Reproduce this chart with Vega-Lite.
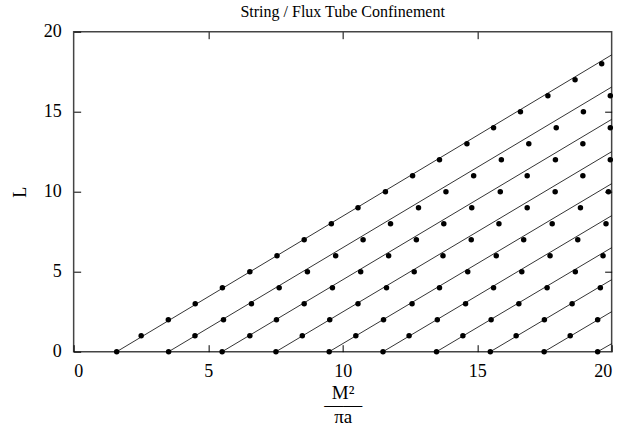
{
  "$schema": "https://vega.github.io/schema/vega-lite/v6.json",
  "width": 538,
  "height": 320,
  "autosize": {"type": "none"},
  "padding": {"left": 73.65, "top": 31.7, "right": 27.35, "bottom": 82.3},
  "background": "white",
  "config": {
    "font": "Liberation Serif",
    "view": {"stroke": "#444", "strokeWidth": 1.5},
    "axis": {"grid": false, "labelColor": "black", "titleColor": "black", "labelFont": "Liberation Serif", "titleFont": "Liberation Serif"}
  },
  "title": {"text": "String / Flux Tube Confinement", "fontSize": 16, "fontWeight": "normal", "anchor": "middle", "offset": 3, "color": "black", "font": "Liberation Serif"},
  "datasets": {
    "lines": [
      {"n": 0, "x": 1.60, "L": 0}, {"n": 0, "x": 20, "L": 18.55},
      {"n": 1, "x": 3.53, "L": 0}, {"n": 1, "x": 20, "L": 16.54},
      {"n": 2, "x": 5.52, "L": 0}, {"n": 2, "x": 20, "L": 14.52},
      {"n": 3, "x": 7.52, "L": 0}, {"n": 3, "x": 20, "L": 12.5},
      {"n": 4, "x": 9.50, "L": 0}, {"n": 4, "x": 20, "L": 10.5},
      {"n": 5, "x": 11.50, "L": 0}, {"n": 5, "x": 20, "L": 8.5},
      {"n": 6, "x": 13.49, "L": 0}, {"n": 6, "x": 20, "L": 6.5},
      {"n": 7, "x": 15.49, "L": 0}, {"n": 7, "x": 20, "L": 4.5},
      {"n": 8, "x": 17.49, "L": 0}, {"n": 8, "x": 20, "L": 2.5},
      {"n": 9, "x": 19.48, "L": 0}, {"n": 9, "x": 20, "L": 0.5}
    ],
    "points": [
      {"n": 0, "L": 0, "x": 1.60}, {"n": 0, "L": 1, "x": 2.51}, {"n": 0, "L": 2, "x": 3.52}, {"n": 0, "L": 3, "x": 4.52}, {"n": 0, "L": 4, "x": 5.53}, {"n": 0, "L": 5, "x": 6.55}, {"n": 0, "L": 6, "x": 7.56}, {"n": 0, "L": 7, "x": 8.57}, {"n": 0, "L": 8, "x": 9.58}, {"n": 0, "L": 9, "x": 10.57}, {"n": 0, "L": 10, "x": 11.59}, {"n": 0, "L": 11, "x": 12.60}, {"n": 0, "L": 12, "x": 13.60}, {"n": 0, "L": 13, "x": 14.62}, {"n": 0, "L": 14, "x": 15.61}, {"n": 0, "L": 15, "x": 16.61}, {"n": 0, "L": 16, "x": 17.63}, {"n": 0, "L": 17, "x": 18.64}, {"n": 0, "L": 18, "x": 19.63},
      {"n": 1, "L": 0, "x": 3.53}, {"n": 1, "L": 1, "x": 4.51}, {"n": 1, "L": 2, "x": 5.57}, {"n": 1, "L": 3, "x": 6.61}, {"n": 1, "L": 4, "x": 7.64}, {"n": 1, "L": 5, "x": 8.69}, {"n": 1, "L": 6, "x": 9.74}, {"n": 1, "L": 7, "x": 10.76}, {"n": 1, "L": 8, "x": 11.78}, {"n": 1, "L": 9, "x": 12.82}, {"n": 1, "L": 10, "x": 13.84}, {"n": 1, "L": 11, "x": 14.87}, {"n": 1, "L": 12, "x": 15.90}, {"n": 1, "L": 13, "x": 16.92}, {"n": 1, "L": 14, "x": 17.94}, {"n": 1, "L": 15, "x": 18.95}, {"n": 1, "L": 16, "x": 19.95},
      {"n": 2, "L": 0, "x": 5.52}, {"n": 2, "L": 1, "x": 6.55}, {"n": 2, "L": 2, "x": 7.54}, {"n": 2, "L": 3, "x": 8.57}, {"n": 2, "L": 4, "x": 9.62}, {"n": 2, "L": 5, "x": 10.67}, {"n": 2, "L": 6, "x": 11.71}, {"n": 2, "L": 7, "x": 12.74}, {"n": 2, "L": 8, "x": 13.76}, {"n": 2, "L": 9, "x": 14.80}, {"n": 2, "L": 10, "x": 15.86}, {"n": 2, "L": 11, "x": 16.86}, {"n": 2, "L": 12, "x": 17.91}, {"n": 2, "L": 13, "x": 18.93}, {"n": 2, "L": 14, "x": 19.95},
      {"n": 3, "L": 0, "x": 7.52}, {"n": 3, "L": 1, "x": 8.50}, {"n": 3, "L": 2, "x": 9.52}, {"n": 3, "L": 3, "x": 10.57}, {"n": 3, "L": 4, "x": 11.63}, {"n": 3, "L": 5, "x": 12.66}, {"n": 3, "L": 6, "x": 13.73}, {"n": 3, "L": 7, "x": 14.78}, {"n": 3, "L": 8, "x": 15.81}, {"n": 3, "L": 9, "x": 16.86}, {"n": 3, "L": 10, "x": 17.90}, {"n": 3, "L": 11, "x": 18.93}, {"n": 3, "L": 12, "x": 19.95},
      {"n": 4, "L": 0, "x": 9.50}, {"n": 4, "L": 1, "x": 10.49}, {"n": 4, "L": 2, "x": 11.52}, {"n": 4, "L": 3, "x": 12.58}, {"n": 4, "L": 4, "x": 13.60}, {"n": 4, "L": 5, "x": 14.65}, {"n": 4, "L": 6, "x": 15.71}, {"n": 4, "L": 7, "x": 16.73}, {"n": 4, "L": 8, "x": 17.79}, {"n": 4, "L": 9, "x": 18.84}, {"n": 4, "L": 10, "x": 19.88},
      {"n": 5, "L": 0, "x": 11.50}, {"n": 5, "L": 1, "x": 12.47}, {"n": 5, "L": 2, "x": 13.52}, {"n": 5, "L": 3, "x": 14.57}, {"n": 5, "L": 4, "x": 15.61}, {"n": 5, "L": 5, "x": 16.66}, {"n": 5, "L": 6, "x": 17.71}, {"n": 5, "L": 7, "x": 18.74}, {"n": 5, "L": 8, "x": 19.79},
      {"n": 6, "L": 0, "x": 13.49}, {"n": 6, "L": 1, "x": 14.47}, {"n": 6, "L": 2, "x": 15.52}, {"n": 6, "L": 3, "x": 16.55}, {"n": 6, "L": 4, "x": 17.60}, {"n": 6, "L": 5, "x": 18.65}, {"n": 6, "L": 6, "x": 19.68},
      {"n": 7, "L": 0, "x": 15.49}, {"n": 7, "L": 1, "x": 16.45}, {"n": 7, "L": 2, "x": 17.50}, {"n": 7, "L": 3, "x": 18.53}, {"n": 7, "L": 4, "x": 19.58},
      {"n": 8, "L": 0, "x": 17.49}, {"n": 8, "L": 1, "x": 18.46}, {"n": 8, "L": 2, "x": 19.48},
      {"n": 9, "L": 0, "x": 19.48}
    ]
  },
  "layer": [
    {
      "data": {"name": "lines"},
      "mark": {"type": "line", "color": "black", "strokeWidth": 0.8},
      "encoding": {
        "x": {"field": "x", "type": "quantitative", "scale": {"domain": [0, 20], "nice": false, "zero": false},
              "axis": {"orient": "top", "values": [5, 10, 15], "labels": false, "title": null, "domain": false, "ticks": true, "tickColor": "black", "tickOpacity": 1, "tickWidth": 1, "tickSize": -7, "zindex": 1}},
        "y": {"field": "L", "type": "quantitative", "scale": {"domain": [0, 20], "nice": false},
              "axis": {"orient": "right", "values": [5, 10, 15], "labels": false, "title": null, "domain": false, "ticks": true, "tickColor": "black", "tickOpacity": 1, "tickWidth": 1, "tickSize": -7, "zindex": 1}},
        "detail": {"field": "n", "type": "nominal"}
      }
    },
    {
      "data": {"name": "points"},
      "mark": {"type": "circle", "color": "black", "opacity": 1, "size": 30},
      "encoding": {
        "x": {"field": "x", "type": "quantitative", "scale": {"domain": [0, 20], "nice": false, "zero": false},
              "axis": {"orient": "bottom", "values": [0, 5, 10, 15, 20], "domain": false, "ticks": true, "tickColor": "black", "tickOpacity": 1, "tickWidth": 1, "tickSize": -7, "zindex": 1, "labelFontSize": 18, "labelPadding": 18,
                       "title": ["M²", "——", "πa"], "titleFontSize": 19, "titleFontWeight": "normal", "titleLineHeight": 12, "titlePadding": 3}},
        "y": {"field": "L", "type": "quantitative", "scale": {"domain": [0, 20], "nice": false},
              "axis": {"orient": "left", "values": [0, 5, 10, 15, 20], "domain": false, "ticks": true, "tickColor": "black", "tickOpacity": 1, "tickWidth": 1, "tickSize": -7, "zindex": 1, "labelFontSize": 18, "labelPadding": 19.5,
                       "title": "L", "titleFontSize": 18, "titleFontWeight": "normal", "titlePadding": 14}}
      }
    }
  ],
  "resolve": {"axis": {"x": "independent", "y": "independent"}}
}
